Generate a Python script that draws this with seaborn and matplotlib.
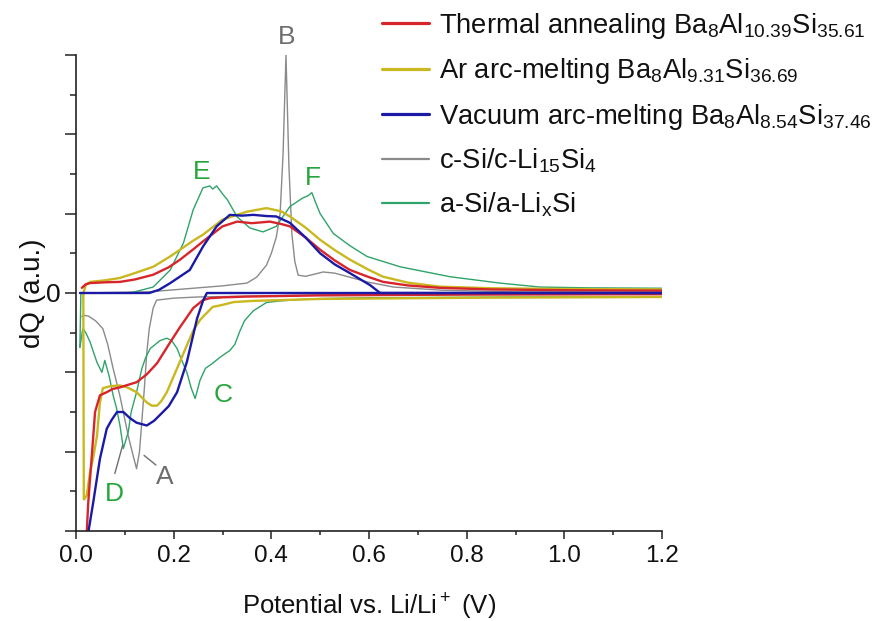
import numpy as np
import pandas as pd
import matplotlib
matplotlib.use("Agg")
import matplotlib.pyplot as plt
import seaborn as sns
from matplotlib.ticker import MultipleLocator, FixedLocator, FixedFormatter

# ---- datos (potencial en V, dQ en unidades arbitrarias) ----
# cada muestra: rama de descarga (de 1.2 V hacia 0) y rama de carga (de 0 hacia 1.2 V)
labels = [
    r"Thermal annealing Ba$_8$Al$_{10.39}$Si$_{35.61}$",
    r"Ar arc-melting Ba$_8$Al$_{9.31}$Si$_{36.69}$",
    r"Vacuum arc-melting Ba$_8$Al$_{8.54}$Si$_{37.46}$",
    r"c-Si/c-Li$_{15}$Si$_4$",
    r"a-Si/a-Li$_\mathrm{x}$Si",
]

red_dis_x = [1.2, 0.8, 0.5, 0.35, 0.3, 0.274, 0.26, 0.24, 0.213, 0.193, 0.166, 0.145, 0.124,
             0.105, 0.09, 0.075, 0.063, 0.049, 0.039, 0.033, 0.028, 0.025, 0.022, 0.02]
red_dis_y = [-0.03, -0.04, -0.06, -0.09, -0.11, -0.13, -0.18, -0.38, -0.86, -1.24, -1.77, -2.05,
             -2.25, -2.32, -2.38, -2.42, -2.5, -2.58, -3.0, -4.0, -4.8, -5.3, -6.05, -6.6]
red_chg_x = [0.012, 0.02, 0.029, 0.06, 0.09, 0.12, 0.158, 0.19, 0.213, 0.24, 0.26, 0.30, 0.33,
             0.36, 0.397, 0.42, 0.438, 0.47, 0.5, 0.53, 0.561, 0.6, 0.629, 0.68, 0.745, 0.85, 1.0, 1.2]
red_chg_y = [0.13, 0.22, 0.25, 0.27, 0.28, 0.34, 0.46, 0.65, 0.84, 1.1, 1.3, 1.68, 1.8,
             1.76, 1.8, 1.74, 1.68, 1.4, 1.09, 0.82, 0.58, 0.4, 0.28, 0.19, 0.13, 0.09, 0.07, 0.06]

yel_dis_x = [1.2, 0.8, 0.5, 0.418, 0.36, 0.322, 0.30, 0.28, 0.26, 0.254, 0.24, 0.227, 0.207,
             0.186, 0.175, 0.166, 0.155, 0.145, 0.124, 0.105, 0.09, 0.07, 0.055, 0.049, 0.043,
             0.036, 0.029, 0.022, 0.017]
yel_dis_y = [-0.1, -0.12, -0.15, -0.18, -0.2, -0.23, -0.3, -0.35, -0.6, -0.68, -0.95, -1.32, -1.9,
             -2.5, -2.72, -2.84, -2.84, -2.76, -2.5, -2.38, -2.33, -2.35, -2.4, -2.76, -3.6,
             -4.1, -4.5, -5.1, -5.2]
yel_chg_x = [0.016, 0.015, 0.02, 0.029, 0.06, 0.09, 0.12, 0.158, 0.19, 0.213, 0.24, 0.26, 0.30,
             0.35, 0.39, 0.42, 0.438, 0.47, 0.5, 0.53, 0.561, 0.6, 0.629, 0.68, 0.745, 0.85, 1.0, 1.2]
yel_chg_y = [-5.2, 0.0, 0.2, 0.28, 0.32, 0.38, 0.5, 0.66, 0.9, 1.09, 1.32, 1.47, 1.85,
             2.05, 2.14, 2.06, 1.93, 1.65, 1.34, 1.08, 0.84, 0.58, 0.41, 0.26, 0.16, 0.12, 0.1, 0.09]

blu_dis_x = [1.2, 0.268, 0.26, 0.248, 0.227, 0.207, 0.19, 0.178, 0.16, 0.145, 0.124, 0.11,
             0.097, 0.084, 0.073, 0.063, 0.049, 0.035, 0.025, 0.02]
blu_dis_y = [0.0, 0.0, -0.2, -0.64, -1.74, -2.5, -2.85, -3.0, -3.22, -3.34, -3.27, -3.15,
             -3.0, -3.0, -3.2, -3.42, -4.18, -5.3, -6.05, -6.6]
blu_chg_x = [0.008, 0.15, 0.17, 0.193, 0.233, 0.26, 0.288, 0.315, 0.34, 0.363, 0.39, 0.41,
             0.438, 0.47, 0.5, 0.53, 0.561, 0.602, 0.623, 1.2]
blu_chg_y = [0.0, 0.0, 0.08, 0.25, 0.58, 1.17, 1.68, 1.97, 1.95, 1.97, 1.94, 1.93,
             1.77, 1.4, 1.0, 0.72, 0.5, 0.2, 0.0, 0.0]

gry_dis_x = [1.2, 0.8, 0.5, 0.35, 0.25, 0.2, 0.165, 0.158, 0.15, 0.145, 0.14, 0.135, 0.13,
             0.124, 0.117, 0.107, 0.09, 0.076, 0.065, 0.055, 0.04, 0.025, 0.014, 0.012]
gry_dis_y = [-0.02, -0.03, -0.05, -0.08, -0.1, -0.13, -0.18, -0.38, -0.9, -1.5, -2.4, -3.2, -4.0,
             -4.43, -4.1, -3.6, -2.6, -1.9, -1.3, -0.9, -0.7, -0.58, -0.56, -0.6]
gry_chg_x = [0.012, 0.15, 0.2, 0.25, 0.3, 0.35, 0.37, 0.39, 0.40, 0.41, 0.418, 0.424, 0.43,
             0.436, 0.442, 0.448, 0.455, 0.47, 0.49, 0.506, 0.53, 0.56, 0.596, 0.65, 0.75, 0.9, 1.2]
gry_chg_y = [0.0, 0.03, 0.08, 0.13, 0.18, 0.25, 0.4, 0.7, 1.0, 1.4, 2.0, 3.5, 6.0,
             3.2, 1.5, 0.8, 0.45, 0.42, 0.48, 0.53, 0.5, 0.4, 0.28, 0.15, 0.07, 0.03, 0.02]

grn_dis_x = [1.2, 0.9, 0.6, 0.5, 0.45, 0.418, 0.39, 0.363, 0.345, 0.336, 0.325, 0.315, 0.295,
             0.28, 0.265, 0.254, 0.244, 0.236, 0.227, 0.215, 0.207, 0.196, 0.186, 0.172, 0.152,
             0.142, 0.135, 0.124, 0.113, 0.107, 0.097, 0.09, 0.083, 0.076, 0.068, 0.059, 0.053,
             0.043, 0.036, 0.029, 0.02, 0.014, 0.008]
grn_dis_y = [-0.1, -0.1, -0.12, -0.14, -0.17, -0.2, -0.24, -0.45, -0.7, -0.95, -1.3, -1.45, -1.62,
             -1.77, -1.9, -2.2, -2.66, -2.4, -2.0, -1.65, -1.4, -1.2, -1.14, -1.2, -1.4,
             -1.65, -1.9, -2.5, -3.0, -3.5, -3.92, -3.34, -2.9, -2.58, -2.1, -1.7, -2.0,
             -1.75, -1.5, -1.24, -1.0, -0.89, -1.37]
grn_chg_x = [0.008, 0.01, 0.05, 0.1, 0.117, 0.158, 0.193, 0.22, 0.24, 0.26, 0.274, 0.28, 0.288,
             0.3, 0.31, 0.33, 0.356, 0.383, 0.41, 0.438, 0.465, 0.475, 0.483, 0.49, 0.5, 0.527,
             0.56, 0.596, 0.664, 0.766, 0.868, 0.95, 1.05, 1.2]
grn_chg_y = [-1.37, 0.0, 0.0, 0.0, 0.02, 0.15, 0.58, 1.26, 2.1, 2.65, 2.7, 2.62, 2.7,
             2.5, 2.35, 1.92, 1.64, 1.54, 1.68, 2.18, 2.4, 2.45, 2.53, 2.3, 2.0, 1.5,
             1.2, 0.92, 0.66, 0.41, 0.25, 0.15, 0.13, 0.12]

# etiquetas de picos
peak_names = ["A", "B", "C", "D", "E", "F"]
peak_x = [0.182, 0.432, 0.301, 0.078, 0.258, 0.485]
peak_y = [-4.63, 6.46, -2.56, -5.06, 3.06, 2.91]

colores = ["#d7262b", "#c9b81f", "#1a1aa6", "#8a8a8a", "#2fa36b"]
anchos = [1.7, 1.7, 1.7, 1.0, 1.0]

sns.set_theme(style="white")
plt.rcParams["font.family"] = ["Liberation Sans", "DejaVu Sans"]
plt.rcParams["mathtext.fontset"] = "custom"
plt.rcParams["mathtext.rm"] = "Liberation Sans"
plt.rcParams["mathtext.it"] = "Liberation Sans:italic"
plt.rcParams["mathtext.bf"] = "Liberation Sans:bold"

fig = plt.figure(figsize=(8.76, 6.21), dpi=100)
ax = fig.add_axes([76 / 876, 1 - 531 / 621, 586 / 876, 476 / 621])

ramas = [
    (red_dis_x, red_dis_y, red_chg_x, red_chg_y),
    (yel_dis_x, yel_dis_y, yel_chg_x, yel_chg_y),
    (blu_dis_x, blu_dis_y, blu_chg_x, blu_chg_y),
    (gry_dis_x, gry_dis_y, gry_chg_x, gry_chg_y),
    (grn_dis_x, grn_dis_y, grn_chg_x, grn_chg_y),
]

# orden de dibujo: gris y verde debajo, azul encima
handles = [None] * 5
for i in [3, 4, 1, 0, 2]:
    dx, dy, cx, cy = ramas[i]
    df = pd.DataFrame({
        "V": list(dx) + list(cx),
        "dQ": list(dy) + list(cy),
        "rama": ["dis"] * len(dx) + ["chg"] * len(cx),
    })
    for rama in ["dis", "chg"]:
        sub = df[df["rama"] == rama]
        sns.lineplot(x=sub["V"].values, y=sub["dQ"].values, sort=False, estimator=None,
                     color=colores[i], lw=anchos[i], ax=ax)
    handles[i] = plt.Line2D([], [], color=colores[i], lw=2.3 if i < 3 else 1.6)

ax.set_xlim(0, 1.2)
ax.set_ylim(-6, 6)

# ejes estilo Origin: solo izquierda y abajo
sns.despine(ax=ax)
for s in ["left", "bottom"]:
    ax.spines[s].set_color("#222222")
    ax.spines[s].set_linewidth(1.2)

ax.xaxis.set_major_locator(MultipleLocator(0.2))
ax.xaxis.set_minor_locator(MultipleLocator(0.1))
ax.yaxis.set_major_locator(FixedLocator([-6, -4, -2, 0, 2, 4, 6]))
ax.yaxis.set_major_formatter(FixedFormatter(["", "", "", "0", "", "", ""]))
ax.yaxis.set_minor_locator(MultipleLocator(1))
ax.tick_params(axis="x", which="major", direction="out", length=6, width=1.1, color="#222222",
               bottom=True, labelsize=17.5, pad=4, labelcolor="#111111")
ax.tick_params(axis="x", which="minor", direction="out", length=3, width=1.1, color="#222222",
               bottom=True)
ax.tick_params(axis="y", which="major", direction="out", length=8, width=1.1, color="#222222",
               left=True, labelsize=19, pad=3, labelcolor="#111111")
ax.tick_params(axis="y", which="minor", direction="out", length=4, width=1.1, color="#222222",
               left=True)
ax.xaxis.set_major_formatter(lambda v, pos: f"{v:.1f}")

ax.set_xlabel(r"Potential vs. Li/Li$^+$ (V)", fontsize=18.5, labelpad=18, color="#111111")
ax.set_ylabel("dQ (a.u.)", fontsize=20, labelpad=0, color="#111111")

# etiquetas de los picos
verde = "#27a53c"
gris = "#6e6e6e"
for n, x, y in zip(peak_names, peak_x, peak_y):
    c = gris if n in ("A", "B") else verde
    ax.text(x, y, n, color=c, fontsize=19, ha="center", va="center", clip_on=False)
ax.annotate("", xy=(0.135, -4.05), xytext=(0.168, -4.38),
            arrowprops=dict(arrowstyle="-", color=gris, lw=1.0))
ax.annotate("", xy=(0.097, -3.77), xytext=(0.078, -4.62),
            arrowprops=dict(arrowstyle="-", color=gris, lw=1.0))

leg = ax.legend(handles, labels, loc="upper left", bbox_to_anchor=(382 / 876, 1 - 11 / 621),
                bbox_transform=fig.transFigure, frameon=False, fontsize=19.7,
                handlelength=1.7, handletextpad=0.4, labelspacing=0.56,
                borderpad=0, borderaxespad=0)
for t in leg.get_texts():
    t.set_color("#111111")

fig.savefig("out.png", dpi=100)
